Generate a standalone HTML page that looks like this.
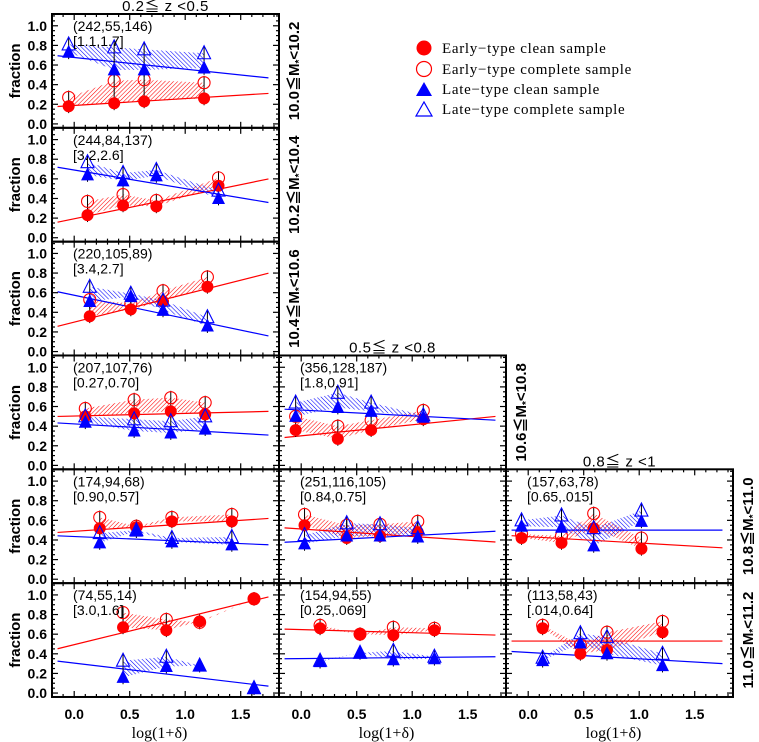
<!DOCTYPE html>
<html><head><meta charset="utf-8"><style>
html,body{margin:0;padding:0;background:#fff;}
svg{display:block;}
text{font-family:"Liberation Sans","Noto Sans CJK JP",sans-serif;}
</style></head><body>
<svg id="chart" width="759" height="742" viewBox="0 0 759 742" xmlns="http://www.w3.org/2000/svg">
<defs>
<pattern id="hatchRed" patternUnits="userSpaceOnUse" width="3" height="3" patternTransform="rotate(45)"><line x1="0" y1="0" x2="0" y2="3" stroke="#f00" stroke-width="1.1"/></pattern>
<pattern id="hatchBlue" patternUnits="userSpaceOnUse" width="3" height="3" patternTransform="rotate(-45)"><line x1="0" y1="0" x2="0" y2="3" stroke="#00f" stroke-width="1.1"/></pattern>
</defs>
<g id="layer"></g>
<g>
<circle cx="424" cy="48" r="7.5" fill="#f00"/>
<text x="442" y="53" font-size="15" style="font-family:'Liberation Serif',serif;letter-spacing:0.7px">Early−type clean sample</text>
<circle cx="424" cy="69" r="7.5" fill="none" stroke="#f00" stroke-width="1.2"/>
<text x="442" y="74" font-size="15" style="font-family:'Liberation Serif',serif;letter-spacing:0.7px">Early−type complete sample</text>
<polygon points="416,96 424,82 432,96" fill="#00f"/>
<text x="442" y="94" font-size="15" style="font-family:'Liberation Serif',serif;letter-spacing:0.7px">Late−type clean sample</text>
<polygon points="416,116 424,102 432,116" fill="none" stroke="#00f" stroke-width="1.2"/>
<text x="442" y="114" font-size="15" style="font-family:'Liberation Serif',serif;letter-spacing:0.7px">Late−type complete sample</text>
</g>
</svg>
<script>
// panel placement: [row, col]
const panelRC = [[0,0],[1,0],[2,0],[3,0],[3,1],[4,0],[4,1],[4,2],[5,0],[5,1],[5,2]];
const countLabels = ["(242,55,146)","(244,84,137)","(220,105,89)","(207,107,76)","(356,128,187)","(174,94,68)","(251,116,105)","(157,63,78)","(74,55,14)","(154,94,55)","(113,58,43)"];
const ratioLabels = ["[1.1,1.7]","[3.2,2.6]","[3.4,2.7]","[0.27,0.70]","[1.8,0.91]","[0.90,0.57]","[0.84,0.75]","[0.65,.015]","[3.0,1.6]","[0.25,.069]","[.014,0.64]"];
const xVals = [
 [-0.05,0.36,0.63,1.17],[0.12,0.44,0.74,1.30],[0.14,0.51,0.80,1.20],[0.10,0.54,0.87,1.18],
 [-0.05,0.33,0.63,1.10],[0.23,0.56,0.88,1.42],[0.03,0.41,0.71,1.05],[-0.06,0.30,0.59,1.02],
 [0.44,0.83,1.13,1.62],[0.17,0.53,0.83,1.20],[0.13,0.47,0.71,1.21]];
const earlyClean = [
 [0.18,0.21,0.23,0.26],[0.23,0.33,0.32,0.53],[0.36,0.43,0.51,0.66],[0.50,0.53,0.55,0.52],
 [0.36,0.27,0.36,0.47],[0.52,0.53,0.59,0.59],[0.55,0.42,0.44,0.48],[0.42,0.37,0.52,0.31],
 [0.67,0.64,0.73,0.96],[0.66,0.60,0.59,0.64],[0.66,0.40,0.44,0.62]];
const earlyComplete = [
 [0.27,0.44,0.45,0.42],[0.37,0.44,0.38,0.61],[0.53,0.49,0.62,0.76],[0.58,0.67,0.69,0.64],
 [0.50,0.40,0.46,0.56],[0.63,0.54,0.63,0.66],[0.66,0.55,0.56,0.59],[0.46,0.44,0.67,0.42],
 [0.82,0.75,0.72,0.96],[0.69,0.60,0.67,0.66],[0.69,0.49,0.62,0.73]];
const lateClean = [
 [0.73,0.55,0.55,0.57],[0.64,0.58,0.63,0.40],[0.51,0.56,0.42,0.26],[0.44,0.35,0.33,0.37],
 [0.50,0.59,0.55,0.49],[0.37,0.49,0.38,0.35],[0.36,0.44,0.44,0.43],[0.54,0.53,0.34,0.59],
 [0.16,0.27,0.28,0.05],[0.32,0.41,0.34,0.35],[0.33,0.51,0.40,0.28]];
const lateComplete = [
 [0.81,0.78,0.76,0.72],[0.77,0.66,0.69,0.48],[0.66,0.59,0.52,0.35],[0.50,0.47,0.45,0.50],
 [0.64,0.74,0.64,0.51],[0.47,0.50,0.42,0.43],[0.45,0.57,0.56,0.52],[0.60,0.65,0.52,0.70],
 [0.33,0.37,0.28,0.05],[0.33,0.41,0.43,0.37],[0.36,0.61,0.57,0.40]];
const earlyFitIntercept = [0.188,0.193,0.30,0.503,0.301,0.488,0.512,0.434,0.493,0.647,0.53];
const earlyFitSlope = [0.070,0.232,0.285,0.027,0.113,0.075,-0.076,-0.065,0.278,-0.032,0];
const lateFitIntercept = [0.677,0.69,0.574,0.423,0.564,0.435,0.386,0.50,0.305,0.351,0.414];
const lateFitSlope = [-0.119,-0.189,-0.237,-0.065,-0.059,-0.048,0.059,0,-0.134,0.011,-0.065];
const xTicks = [0.0,0.5,1.0,1.5];
const xTickLabels = ["0.0","0.5","1.0","1.5"];
const yTicks = [0.0,0.2,0.4,0.6,0.8,1.0];
const yTickLabels = ["0.0","0.2","0.4","0.6","0.8","1.0"];
const massLabels = ["10.0≦M","10.2≦M","10.4≦M","10.6≦M","10.8≦M","11.0≦M"];
const massUpper = ["<10.2","<10.4","<10.6","<10.8","<11.0","<11.2"];
const zTitles = ["0.2≦ z <0.5","0.5≦ z <0.8","0.8≦ z <1"];

const NS="http://www.w3.org/2000/svg";
const layer=document.getElementById('layer');
const colLeft=[52,279,506], colW=227, rowTop=14, rowH=113.83;
const XMIN=-0.2, XMAX=1.845, YMIN=-0.04, YMAX=1.12;
function mk(tag,attrs,parent){const e=document.createElementNS(NS,tag);for(const k in attrs)e.setAttribute(k,attrs[k]);(parent||layer).appendChild(e);return e;}
function xs(c,v){return colLeft[c]+(v-XMIN)/(XMAX-XMIN)*colW;}
function ys(r,v){const b=rowTop+(r+1)*rowH;return b-(v-YMIN)/(YMAX-YMIN)*rowH;}

panelRC.forEach((rc,p)=>{
  const r=rc[0],c=rc[1];
  const g=mk('g',{});
  
  
  const L=colLeft[c],T=rowTop+r*rowH,R=L+colW,B=T+rowH;
  const xv=xVals[p];
  const ptsE=xv.map((x,i)=>xs(c,x)+','+ys(r,earlyClean[p][i])).concat(xv.map((x,i)=>xs(c,x)+','+ys(r,earlyComplete[p][i])).reverse());
  const he=mk('polygon',{points:ptsE.join(' '),fill:'url(#hatchRed)'},g);
  
  
  const ptsL=xv.map((x,i)=>xs(c,x)+','+ys(r,lateClean[p][i])).concat(xv.map((x,i)=>xs(c,x)+','+ys(r,lateComplete[p][i])).reverse());
  const hl=mk('polygon',{points:ptsL.join(' '),fill:'url(#hatchBlue)'},g);
  
  
  const x0=-0.15,x1=1.75;
  const fe=mk('line',{x1:xs(c,x0),y1:ys(r,earlyFitIntercept[p]+earlyFitSlope[p]*x0),x2:xs(c,x1),y2:ys(r,earlyFitIntercept[p]+earlyFitSlope[p]*x1),stroke:'#f00','stroke-width':1.2},g);
  
  
  const fl=mk('line',{x1:xs(c,x0),y1:ys(r,lateFitIntercept[p]+lateFitSlope[p]*x0),x2:xs(c,x1),y2:ys(r,lateFitIntercept[p]+lateFitSlope[p]*x1),stroke:'#00f','stroke-width':1.2},g);
  
  
  xv.forEach((x,i)=>{
    const X=xs(c,x);
    [[earlyClean,earlyComplete],[lateClean,lateComplete]].forEach(pair=>{
      const a=pair[0][p][i],b=pair[1][p][i];
      const eb=mk('line',{x1:X,x2:X,y1:ys(r,Math.max(a,b)+0.07),y2:ys(r,Math.min(a,b)-0.07),stroke:'#000','stroke-width':1},g);
      
      
    });
  });
  xv.forEach((x,i)=>{
    const X=xs(c,x);
    const m1=mk('circle',{cx:X,cy:ys(r,earlyComplete[p][i]),r:6,fill:'none',stroke:'#f00','stroke-width':1.1},g);
    
    
    const m2=mk('circle',{cx:X,cy:ys(r,earlyClean[p][i]),r:6,fill:'#f00'},g);
    
    
    const yc=ys(r,lateComplete[p][i]);
    const m3=mk('polygon',{points:(X-6.5)+','+(yc+5.5)+' '+X+','+(yc-7.5)+' '+(X+6.5)+','+(yc+5.5),fill:'none',stroke:'#00f','stroke-width':1.1},g);
    
    
    const yl=ys(r,lateClean[p][i]);
    const m4=mk('polygon',{points:(X-6.5)+','+(yl+5.5)+' '+X+','+(yl-7.5)+' '+(X+6.5)+','+(yl+5.5),fill:'#00f'},g);
    
    
  });
  const fr=mk('rect',{x:L,y:T,width:colW,height:rowH,fill:'none',stroke:'#000','stroke-width':2},g);
  
  
  for(let v=-0.1;v<=1.81;v+=0.1){
    const vv=Math.round(v*10)/10; const X=xs(c,vv); const major=Math.abs(vv*2-Math.round(vv*2))<1e-6; const len=major?6:3;
    mk('line',{x1:X,x2:X,y1:B,y2:B-len,stroke:'#000','stroke-width':1.2},g);
    mk('line',{x1:X,x2:X,y1:T,y2:T+len,stroke:'#000','stroke-width':1.2},g);
  }
  for(let v=0;v<=1.101;v+=0.05){
    const vv=Math.round(v*100)/100; const Y=ys(r,vv); const major=Math.abs(vv*5-Math.round(vv*5))<1e-6; const len=major?6:3;
    mk('line',{x1:L,x2:L+len,y1:Y,y2:Y,stroke:'#000','stroke-width':1.2},g);
    mk('line',{x1:R,x2:R-len,y1:Y,y2:Y,stroke:'#000','stroke-width':1.2},g);
  }
  const t1=mk('text',{x:L+21,y:T+17,'font-size':14},g); t1.textContent=countLabels[p];
  
  
  const t2=mk('text',{x:L+21,y:T+32,'font-size':14},g); t2.textContent=ratioLabels[p];
  
  
  if(c===0){
    yTicks.forEach((v,i)=>{
      const t=mk('text',{x:L-5,y:ys(r,v)+5,'font-size':14,'font-weight':'bold','text-anchor':'end'},g);
      t.textContent=yTickLabels[i];
      
      
    });
    const yt=mk('text',{x:0,y:0,'font-size':15,'font-weight':'bold','text-anchor':'middle',transform:'translate(20,'+(T+rowH/2)+') rotate(-90)'},g);
    yt.textContent='fraction';
    
    
  }
  if(r===5){
    xTicks.forEach((v,i)=>{
      const t=mk('text',{x:xs(c,v),y:B+22,'font-size':14,'font-weight':'bold','text-anchor':'middle'},g);
      t.textContent=xTickLabels[i];
      
      
    });
    const xt=mk('text',{x:L+colW/2-6,y:B+41,'font-size':16,'text-anchor':'middle',style:"font-family:'Liberation Serif',serif"},g);
    xt.textContent='log(1+δ)';
    
    
  }
  if((c===0&&r===0)||(c===1&&r===3)||(c===2&&r===4)){
    const zt=mk('text',{x:L+colW/2,y:T-3,'font-size':15,'text-anchor':'middle',style:"font-family:'Liberation Sans','Noto Sans CJK JP',sans-serif;letter-spacing:0.5px"},g);
    zt.textContent=zTitles[c];
    
    
  }
  const lastInRow=(r<3&&c===0)||(r===3&&c===1)||(r>=4&&c===2);
  if(lastInRow){
    const mt=mk('text',{x:0,y:0,'font-size':15,'font-weight':'bold','text-anchor':'middle',transform:'translate('+(R+20)+','+(T+rowH/2)+') rotate(-90)'},g);
    
    
    const s1=document.createElementNS(NS,'tspan'); s1.textContent=massLabels[r]; mt.appendChild(s1);
    const s2=document.createElementNS(NS,'tspan'); s2.setAttribute('font-size','10'); s2.setAttribute('dy','3'); s2.textContent='*'; mt.appendChild(s2);
    const s3=document.createElementNS(NS,'tspan'); s3.setAttribute('dy','-3'); s3.textContent=massUpper[r]; mt.appendChild(s3);
  }
});
</script>
</body></html>
